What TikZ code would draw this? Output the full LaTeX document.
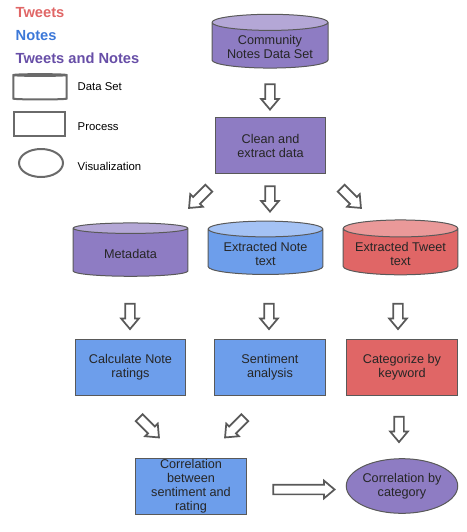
\documentclass[tikz,border=0pt]{standalone}
\usepackage{fontspec}
\setmainfont{Liberation Sans}
\usetikzlibrary{shapes.geometric,shapes.arrows}

\definecolor{tweetred}{HTML}{E06666}
\definecolor{tweetredtop}{HTML}{EA9999}
\definecolor{noteblue}{HTML}{6D9EEB}
\definecolor{notebluetop}{HTML}{A4C2F4}
\definecolor{notetitle}{HTML}{3C78D8}
\definecolor{bothpurple}{HTML}{8E7CC3}
\definecolor{bothpurpletop}{HTML}{B4A7D6}
\definecolor{bothtitle}{HTML}{674EA7}
\definecolor{edgegray}{HTML}{595959}

\tikzset{
  boxtext/.style={font=\fontsize{9.5}{10.5}\selectfont, align=center, text=black!85},
  dataset/.style 2 args={cylinder, shape border rotate=90, aspect=0.17, boxtext,
    draw=edgegray, line width=0.75pt, minimum width=86pt, minimum height=40pt,
    cylinder uses custom fill, cylinder body fill=#1, cylinder end fill=#2},
  process/.style={rectangle, boxtext, draw=edgegray, line width=0.75pt,
    minimum width=83pt, minimum height=42pt, inner sep=1pt, fill=#1},
  visual/.style={ellipse, boxtext, draw=edgegray, line width=0.75pt,
    minimum width=71pt, minimum height=41pt, inner sep=0pt, fill=#1},
  blockarrow/.style={single arrow, draw=edgegray, fill=white, line width=1.3pt,
    minimum height=#1, inner sep=3pt, single arrow head extend=3pt,
    single arrow tip angle=80, single arrow head indent=0pt},
  blockarrow/.default=19pt,
  legendtitle/.style={anchor=west, font=\fontsize{11}{13}\selectfont\bfseries},
  legendtext/.style={anchor=west, font=\fontsize{8.5}{10}\selectfont},
  legendshape/.style={draw=edgegray!90, line width=1.5pt, fill=white}
}

\begin{document}
\begin{tikzpicture}[x=0.75pt, y=-0.75pt]
  \useasboundingbox (0,0) rectangle (467,532);

  % legend
  \node[legendtitle, text=tweetred] (lgtweets) at (11,13) {Tweets};
  \node[legendtitle, text=notetitle] (lgnotes) at (11,36) {Notes};
  \node[legendtitle, text=bothtitle] (lgboth) at (11,58) {Tweets and Notes};
  \node[legendshape, cylinder, shape border rotate=90, aspect=0.2,
        minimum width=40pt, minimum height=19pt] (lgcyl) at (40,88) {};
  \node[legendtext] (lgcyltext) at (73,87) {Data Set};
  \node[legendshape, rectangle, minimum width=38pt, minimum height=18pt] (lgrect) at (39.5,124) {};
  \node[legendtext] (lgrecttext) at (73,127) {Process};
  \node[legendshape, ellipse, minimum width=33pt, minimum height=21pt, inner sep=0pt] (lgell) at (41,163) {};
  \node[legendtext] (lgelltext) at (73,166) {Visualization};

  % data sets and steps
  \node[dataset={bothpurple}{bothpurpletop}, minimum width=87pt] (cnds) at (270,47) {Community\\Notes Data Set};
  \node[process=bothpurple] (clean) at (270.5,145.5) {Clean and\\extract data};

  \node[dataset={bothpurple}{bothpurpletop}] (meta) at (130.5,253.5) {Metadata};
  \node[dataset={noteblue}{notebluetop}] (notetext) at (265.5,253.5) {Extracted Note\\text};
  \node[dataset={tweetred}{tweetredtop}] (tweettext) at (400.5,253.5) {Extracted Tweet\\text};

  \node[process=noteblue] (ratings) at (130.5,367.5) {Calculate Note\\ratings};
  \node[process=noteblue] (sentiment) at (270,367.5) {Sentiment\\analysis};
  \node[process=tweetred] (keyword) at (402,367) {Categorize by\\keyword};

  \node[process=noteblue] (corrsr) at (191,486.5) {Correlation\\between\\sentiment and\\rating};
  \node[visual=bothpurple] (corrcat) at (402,486) {Correlation by\\category};

  % block arrows
  \node[blockarrow, rotate=-90] (a1) at (270,94) {};
  \node[blockarrow=21pt, rotate=-135] (a2) at (201,196) {};
  \node[blockarrow, rotate=-90] (a3) at (270,196) {};
  \node[blockarrow=21pt, rotate=-45] (a4) at (349,196) {};
  \node[blockarrow, rotate=-90] (a5) at (130,313.5) {};
  \node[blockarrow, rotate=-90] (a6) at (269,313.5) {};
  \node[blockarrow, rotate=-90] (a7) at (398,313.5) {};
  \node[blockarrow=21pt, rotate=-45] (a8) at (147,425.5) {};
  \node[blockarrow=21pt, rotate=-135] (a9) at (237,425.5) {};
  \node[blockarrow, rotate=-90] (a10) at (399,426.5) {};
  \node[blockarrow=46pt] (a11) at (301,489.5) {};
\end{tikzpicture}
\end{document}
